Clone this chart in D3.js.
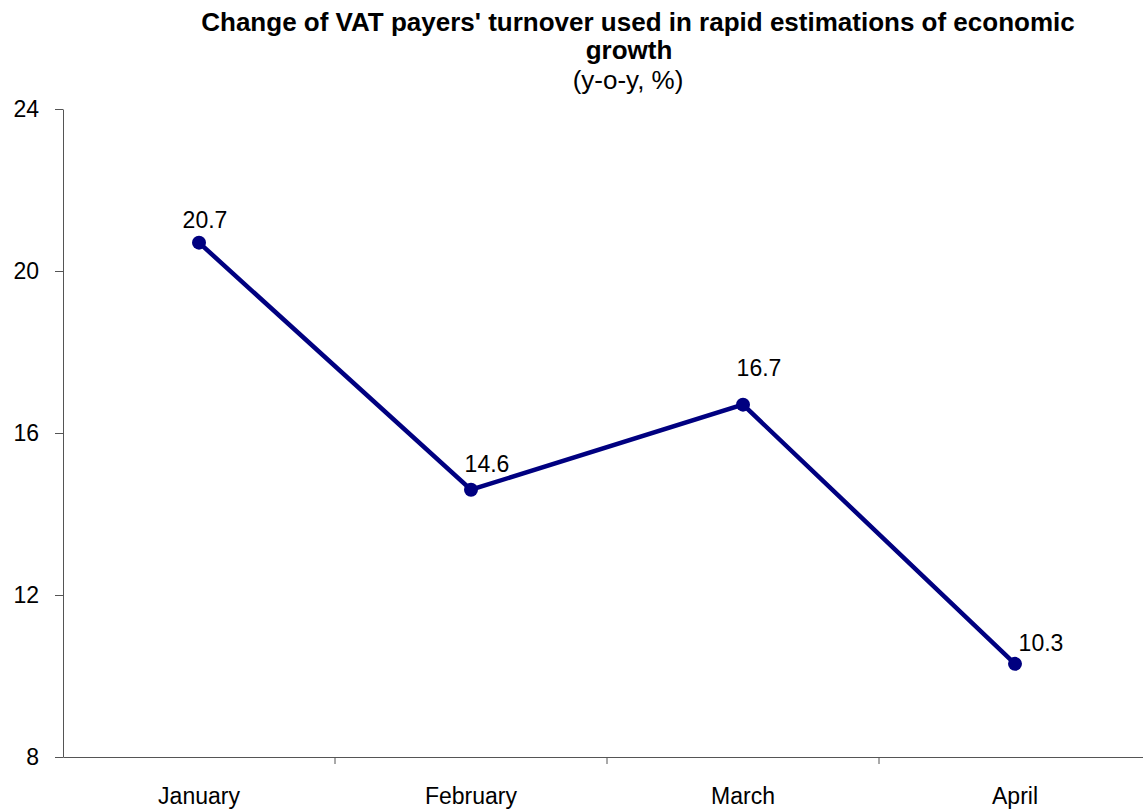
<!DOCTYPE html>
<html>
<head>
<meta charset="utf-8">
<script src="https://cdn.jsdelivr.net/npm/d3@7"></script>
<style>
  body { margin: 0; background: #fff; }
  svg text { font-family: "Liberation Sans", Arial, sans-serif; fill: #000; }
  .axis path, .axis line { stroke: #555; }
</style>
</head>
<body>
<svg id="chart"></svg>
<script>
const months = ['January', 'February', 'March', 'April'],
values = [20.7, 14.6, 16.7, 10.3],
yTicks = [8, 12, 16, 20, 24],
// where each value label sits relative to its point (dx, dy)
labelOffsets = [[6, -15], [16, -18], [16, -29], [26, -13]],
width = 1143,
height = 811,
margin = {top: 109, left: 63, bottom: 54};

const svg = d3.select('#chart')
  .attr('width', width)
  .attr('height', height);

const x = d3.scaleBand()
  .domain(months)
  .range([margin.left, margin.left + 272 * months.length]);

const y = d3.scaleLinear()
  .domain([8, 24])
  .range([height - margin.bottom, margin.top]);

// title
svg.append('text')
  .attr('x', 638)
  .attr('y', 31)
  .attr('text-anchor', 'middle')
  .style('font-size', '26px')
  .style('font-weight', 'bold')
  .text("Change of VAT payers' turnover used in rapid estimations of economic");

svg.append('text')
  .attr('x', 629)
  .attr('y', 59)
  .attr('text-anchor', 'middle')
  .style('font-size', '26px')
  .style('font-weight', 'bold')
  .text('growth');

svg.append('text')
  .attr('x', 628)
  .attr('y', 89)
  .attr('text-anchor', 'middle')
  .style('font-size', '26px')
  .text('(y-o-y, %)');

// axes
const yAxis = svg.append('g')
  .attr('class', 'axis')
  .attr('transform', `translate(${margin.left},0)`)
  .call(d3.axisLeft(y).tickValues(yTicks).tickSize(8).tickPadding(16).tickSizeOuter(0));

yAxis.selectAll('text').style('font-size', '23px');

const xAxis = svg.append('g')
  .attr('class', 'axis')
  .attr('transform', `translate(0,${y(8)})`)
  .call(d3.axisBottom(x).tickSize(0).tickPadding(31).tickSizeOuter(0));

xAxis.selectAll('text').style('font-size', '23px');

// tick marks between categories
xAxis.selectAll('.sep')
  .data(months.slice(1))
  .enter().append('line')
  .attr('class', 'sep')
  .attr('x1', (d) => x(d))
  .attr('x2', (d) => x(d))
  .attr('y1', 0)
  .attr('y2', 7)
  .attr('stroke', '#555');

const cx = (d, i) => x(months[i]) + x.bandwidth() / 2;

const line = d3.line()
  .x((d, i) => cx(d, i))
  .y((d) => y(d));

svg.append('path')
  .datum(values)
  .attr('fill', 'none')
  .attr('stroke', '#000080')
  .attr('stroke-width', 4.5)
  .attr('d', line);

svg.selectAll('.dot')
  .data(values)
  .enter().append('circle')
  .attr('class', 'dot')
  .attr('cx', cx)
  .attr('cy', (d) => y(d))
  .attr('r', 7)
  .attr('fill', '#000080');

svg.selectAll('.label')
  .data(values)
  .enter().append('text')
  .attr('class', 'label')
  .attr('x', (d, i) => cx(d, i) + labelOffsets[i][0])
  .attr('y', (d, i) => y(d) + labelOffsets[i][1])
  .attr('text-anchor', 'middle')
  .style('font-size', '23px')
  .text((d) => d.toFixed(1));
</script>
</body>
</html>
